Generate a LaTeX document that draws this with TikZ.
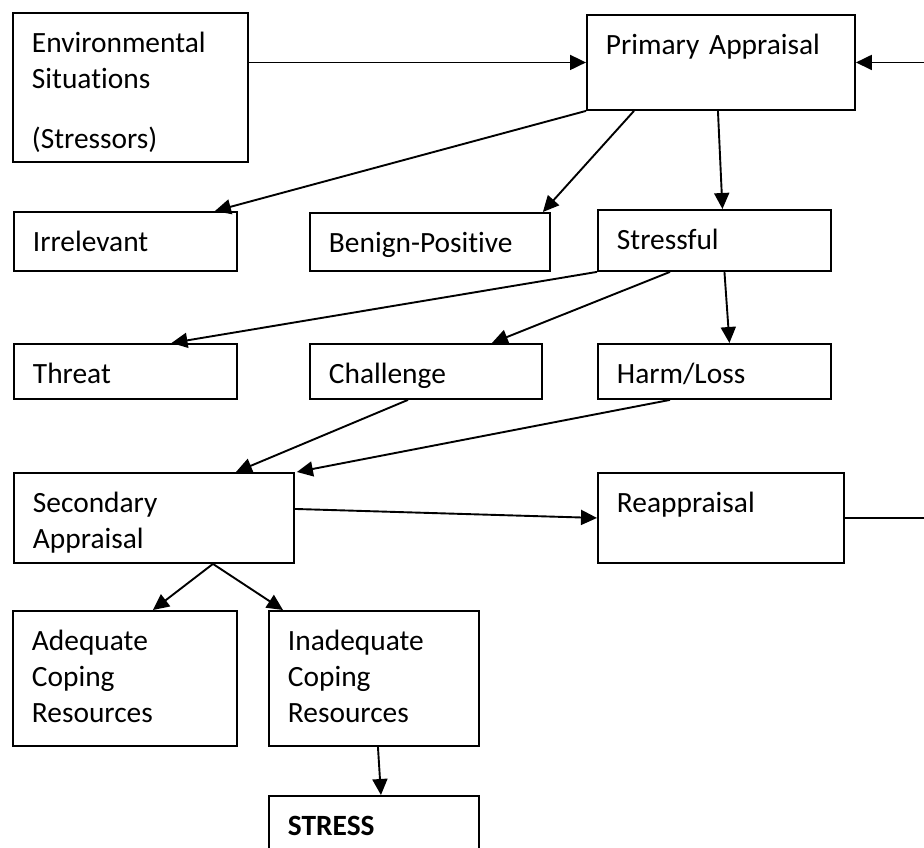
\documentclass[tikz,border=0pt]{standalone}
\usepackage{fontspec}
\setmainfont{Carlito}[Ligatures=NoCommon]
\usepackage{tikz}
\usetikzlibrary{arrows.meta}

\begin{document}
\begin{tikzpicture}[->, >={Triangle[length=16pt, width=15pt]}, x=1pt, y=-1pt, line width=1.9pt,
  box/.style={draw, anchor=north west, align=left, inner xsep=19pt, inner ysep=0pt, text height=39.5pt, font=\fontsize{29.4}{36}\selectfont}]

\useasboundingbox (0,0) rectangle (924,847);

\node[box, text width=197pt, text depth=109.5pt] (env) at (12,12) {Environmental\\Situations\\[24pt](Stressors)};
\node[box, text width=230pt, text depth=55.5pt] (prim) at (586,14) {Primary Appraisal};
\node[box, text width=185pt, text depth=19.5pt] (irr) at (13,211) {Irrelevant};
\node[box, text width=202pt, text depth=18.5pt] (ben) at (309,212) {Benign-Positive};
\node[box, text width=195pt, text depth=21.5pt] (str) at (597,209) {Stressful};
\node[box, text width=185pt, text depth=15.5pt] (thr) at (13,343) {Threat};
\node[box, text width=194pt, text depth=15.5pt] (cha) at (309,343) {Challenge};
\node[box, text width=195pt, text depth=15.5pt] (harm) at (597,343) {Harm/Loss};
\node[box, text width=242pt, text depth=50.5pt] (sec) at (13,472) {Secondary\\Appraisal};
\node[box, text width=208pt, text depth=50.5pt] (reap) at (597,472) {Reappraisal};
\node[box, text width=186pt, text depth=95.5pt] (adq) at (12,610) {Adequate\\Coping\\Resources};
\node[box, text width=172pt, text depth=95.5pt] (inadq) at (268,610) {Inadequate\\Coping\\Resources};
\node[box, text width=172pt, text depth=40.5pt] (stress) at (268,795) {\textbf{STRESS}};

\path
(env.east |- prim.west) edge (prim.west)

(prim.south west) edge ([xshift=-23pt]irr.north east)
([xshift=48pt]prim.south west) edge ([xshift=-8pt]ben.north east)
([xshift=-3pt]prim.south) edge ([xshift=8pt]str.north)

(str.south west) edge ([xshift=46pt]thr.north)
([xshift=73pt]str.south west) edge ([xshift=-51pt]cha.north east)
([xshift=10pt]str.south) edge ([xshift=15pt]harm.north)

([xshift=-18pt]cha.south) edge ([xshift=82pt]sec.north)
([xshift=73pt]harm.south west) edge ([xshift=2pt]sec.north east)

([yshift=9pt]sec.east) edge (reap.west)
([xshift=59pt]sec.south) edge ([xshift=28pt]adq.north)
([xshift=59pt]sec.south) edge ([xshift=15pt]inadq.north west)

([xshift=4pt]inadq.south) edge ([xshift=7pt]stress.north);

% back to primary appraisal
\draw (reap.east) -- ++(84,0) |- (prim.east);

\end{tikzpicture}
\end{document}
